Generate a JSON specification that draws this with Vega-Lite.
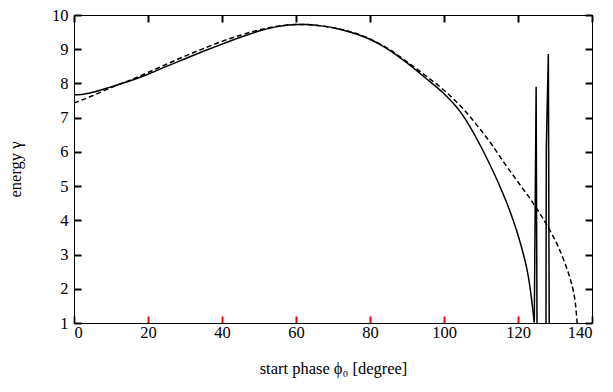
{
  "$schema": "https://vega.github.io/schema/vega-lite/v6.json",
  "width": 518,
  "height": 308,
  "autosize": {"type": "none"},
  "padding": {"left": 74, "top": 15, "right": 21, "bottom": 69},
  "background": "white",
  "config": {
    "view": {"stroke": "black", "strokeWidth": 1},
    "font": "Liberation Serif",
    "axis": {
      "labelFont": "Liberation Serif",
      "titleFont": "Liberation Serif",
      "labelFontSize": 16.5,
      "titleFontSize": 16.5,
      "titleFontWeight": "normal",
      "labelColor": "#000000",
      "titleColor": "#000000",
      "domainColor": "#000000",
      "grid": false,
      "ticks": true,
      "tickColor": "#000000",
      "tickWidth": 2,
      "zindex": 1
    }
  },
  "data": {
    "values": [
      {"x": 0, "y": 7.67, "s": "solid"},
      {"x": 2, "y": 7.68, "s": "solid"},
      {"x": 5, "y": 7.74, "s": "solid"},
      {"x": 10, "y": 7.9, "s": "solid"},
      {"x": 15, "y": 8.07, "s": "solid"},
      {"x": 20, "y": 8.27, "s": "solid"},
      {"x": 25, "y": 8.5, "s": "solid"},
      {"x": 30, "y": 8.72, "s": "solid"},
      {"x": 35, "y": 8.94, "s": "solid"},
      {"x": 40, "y": 9.15, "s": "solid"},
      {"x": 45, "y": 9.35, "s": "solid"},
      {"x": 50, "y": 9.53, "s": "solid"},
      {"x": 55, "y": 9.66, "s": "solid"},
      {"x": 60, "y": 9.72, "s": "solid"},
      {"x": 63, "y": 9.72, "s": "solid"},
      {"x": 66, "y": 9.69, "s": "solid"},
      {"x": 70, "y": 9.63, "s": "solid"},
      {"x": 75, "y": 9.49, "s": "solid"},
      {"x": 80, "y": 9.29, "s": "solid"},
      {"x": 85, "y": 8.99, "s": "solid"},
      {"x": 90, "y": 8.6, "s": "solid"},
      {"x": 95, "y": 8.16, "s": "solid"},
      {"x": 100, "y": 7.7, "s": "solid"},
      {"x": 103, "y": 7.36, "s": "solid"},
      {"x": 105, "y": 7.08, "s": "solid"},
      {"x": 107, "y": 6.74, "s": "solid"},
      {"x": 110, "y": 6.15, "s": "solid"},
      {"x": 112, "y": 5.72, "s": "solid"},
      {"x": 115, "y": 5.02, "s": "solid"},
      {"x": 117, "y": 4.5, "s": "solid"},
      {"x": 118.7, "y": 4.0, "s": "solid"},
      {"x": 120, "y": 3.57, "s": "solid"},
      {"x": 121.4, "y": 3.03, "s": "solid"},
      {"x": 122.4, "y": 2.58, "s": "solid"},
      {"x": 123.2, "y": 2.08, "s": "solid"},
      {"x": 123.8, "y": 1.58, "s": "solid"},
      {"x": 124.4, "y": 1.02, "s": "solid"},
      {"x": 124.4, "y": 1.02, "s": "spike"},
      {"x": 124.9, "y": 7.9, "s": "spike"},
      {"x": 125.15, "y": 0.5, "s": "spike"},
      {"x": 127.55, "y": 0.5, "s": "spike"},
      {"x": 127.65, "y": 6.1, "s": "spike"},
      {"x": 128.2, "y": 8.86, "s": "spike"},
      {"x": 128.45, "y": 0.5, "s": "spike"},
      {"x": 0, "y": 7.43, "s": "dashed"},
      {"x": 5, "y": 7.64, "s": "dashed"},
      {"x": 10, "y": 7.88, "s": "dashed"},
      {"x": 15, "y": 8.09, "s": "dashed"},
      {"x": 20, "y": 8.32, "s": "dashed"},
      {"x": 25, "y": 8.56, "s": "dashed"},
      {"x": 30, "y": 8.8, "s": "dashed"},
      {"x": 35, "y": 9.02, "s": "dashed"},
      {"x": 40, "y": 9.23, "s": "dashed"},
      {"x": 45, "y": 9.41, "s": "dashed"},
      {"x": 50, "y": 9.56, "s": "dashed"},
      {"x": 55, "y": 9.67, "s": "dashed"},
      {"x": 60, "y": 9.72, "s": "dashed"},
      {"x": 63, "y": 9.72, "s": "dashed"},
      {"x": 66, "y": 9.69, "s": "dashed"},
      {"x": 70, "y": 9.63, "s": "dashed"},
      {"x": 75, "y": 9.5, "s": "dashed"},
      {"x": 80, "y": 9.3, "s": "dashed"},
      {"x": 85, "y": 9.01, "s": "dashed"},
      {"x": 90, "y": 8.63, "s": "dashed"},
      {"x": 95, "y": 8.23, "s": "dashed"},
      {"x": 100, "y": 7.8, "s": "dashed"},
      {"x": 105, "y": 7.28, "s": "dashed"},
      {"x": 110, "y": 6.63, "s": "dashed"},
      {"x": 113, "y": 6.2, "s": "dashed"},
      {"x": 116, "y": 5.72, "s": "dashed"},
      {"x": 120, "y": 5.12, "s": "dashed"},
      {"x": 124.6, "y": 4.42, "s": "dashed"},
      {"x": 128.6, "y": 3.71, "s": "dashed"},
      {"x": 131, "y": 3.2, "s": "dashed"},
      {"x": 132.7, "y": 2.74, "s": "dashed"},
      {"x": 134, "y": 2.33, "s": "dashed"},
      {"x": 134.9, "y": 1.96, "s": "dashed"},
      {"x": 135.5, "y": 1.58, "s": "dashed"},
      {"x": 136.0, "y": 1.0, "s": "dashed"}
    ]
  },
  "layer": [
    {
      "transform": [{"filter": "datum.s === 'solid'"}],
      "mark": {"type": "line", "color": "black", "strokeWidth": 1.5, "clip": true, "interpolate": "monotone"},
      "encoding": {
        "x": {
          "field": "x", "type": "quantitative",
          "scale": {"domain": [0, 140], "nice": false},
          "axis": {"orient": "bottom", "values": [0, 20, 40, 60, 80, 100, 120, 140], "title": "start phase ϕ₀ [degree]", "labelPadding": 8, "titlePadding": 20, "tickSize": -7, "tickColor": "red", "tickWidth": 2}
        },
        "y": {
          "field": "y", "type": "quantitative",
          "scale": {"domain": [1, 10], "nice": false, "zero": false},
          "axis": {"orient": "left", "values": [1, 2, 3, 4, 5, 6, 7, 8, 9, 10], "title": "energy γ", "labelPadding": 13, "titlePadding": 28, "tickSize": -7, "tickColor": "black", "tickWidth": 2}
        }
      }
    },
    {
      "transform": [{"filter": "datum.s === 'spike'"}],
      "mark": {"type": "line", "color": "black", "strokeWidth": 1.5, "clip": true, "interpolate": "linear"},
      "encoding": {
        "x": {"field": "x", "type": "quantitative", "axis": null},
        "y": {"field": "y", "type": "quantitative", "axis": null}
      }
    },
    {
      "transform": [{"filter": "datum.s === 'dashed'"}],
      "mark": {"type": "line", "color": "black", "strokeWidth": 1.5, "strokeDash": [5, 3], "clip": true, "interpolate": "monotone"},
      "encoding": {
        "x": {
          "field": "x", "type": "quantitative",
          "axis": {"orient": "top", "values": [0, 20, 40, 60, 80, 100, 120, 140], "labels": false, "title": null, "tickSize": -7, "tickColor": "black", "tickWidth": 2}
        },
        "y": {
          "field": "y", "type": "quantitative",
          "axis": {"orient": "right", "values": [1, 2, 3, 4, 5, 6, 7, 8, 9, 10], "labels": false, "title": null, "tickSize": -7, "tickColor": "black", "tickWidth": 2}
        }
      }
    }
  ],
  "resolve": {"axis": {"x": "independent", "y": "independent"}}
}
